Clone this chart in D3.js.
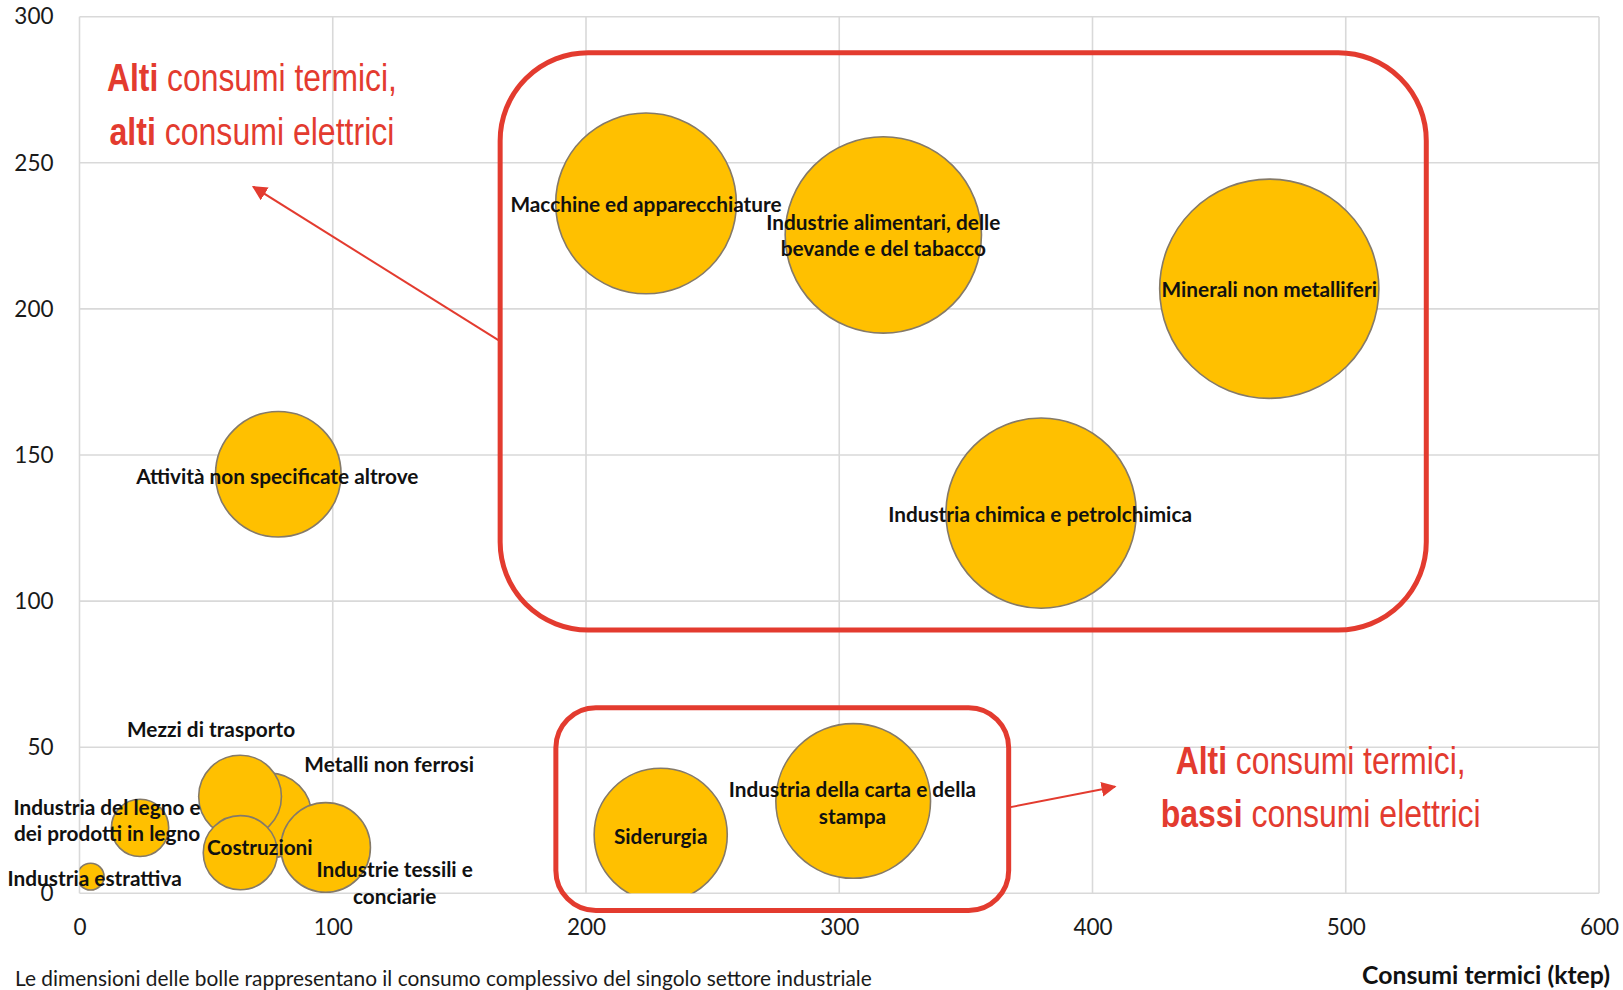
<!DOCTYPE html>
<html lang="it">
<head>
<meta charset="utf-8">
<title>Consumi termici ed elettrici per settore industriale</title>
<script src="https://cdn.jsdelivr.net/npm/d3@7"></script>
<style>
  html, body { margin: 0; padding: 0; background: #ffffff; }
  svg { display: block; }
  .tick text { font-family: Lato, "Open Sans", sans-serif; font-size: 22.5px; fill: #1a1a1a; }
  .bubble-label { font-family: Lato, "Open Sans", sans-serif; font-weight: 700; font-size: 20.8px; fill: #111; }
  .note { font-family: Lato, "Open Sans", sans-serif; font-size: 20.9px; fill: #1a1a1a; }
  .axis-title { font-family: Lato, "Open Sans", sans-serif; font-weight: 700; font-size: 24.8px; fill: #111; }
  .callout { font-family: "Liberation Sans Narrow", "Arial Narrow", "Liberation Sans", Arial, sans-serif; font-size: 38px; fill: #E33B2F; }
</style>
</head>
<body>
<svg id="chart" width="1623" height="990"></svg>
<script>
// Settori industriali (ordine di disegno delle bolle)
const sectors = [
  "Industria estrattiva",
  "Industria del legno e dei prodotti in legno",
  "Metalli non ferrosi",
  "Mezzi di trasporto",
  "Costruzioni",
  "Industrie tessili e conciarie",
  "Attività non specificate altrove",
  "Macchine ed apparecchiature",
  "Industrie alimentari, delle bevande e del tabacco",
  "Minerali non metalliferi",
  "Industria chimica e petrolchimica",
  "Siderurgia",
  "Industria della carta e della stampa"
];
// Consumi termici (ktep) – asse x
const thermal  = [4.4, 23.9, 74.9, 63.4, 63.5, 97.2, 78.5, 223.7, 317.4, 469.8, 379.7, 229.5, 305.5];
// Consumi elettrici (ktep) – asse y
const electric = [5.7, 22.4, 26.6, 33.1, 13.9, 15.7, 143.4, 236.1, 225.3, 206.9, 130.1, 20.0, 31.6];
// Consumo complessivo (ktep) – dimensione delle bolle
const totals   = [10.1, 46.3, 101.5, 96.5, 77.4, 112.9, 221.9, 459.8, 542.7, 676.7, 509.8, 249.5, 337.1];

// Etichette su più righe
const labelLines = [
  ["Industria estrattiva"],
  ["Industria del legno e", "dei prodotti in legno"],
  ["Metalli non ferrosi"],
  ["Mezzi di trasporto"],
  ["Costruzioni"],
  ["Industrie tessili e", "conciarie"],
  ["Attività non specificate altrove"],
  ["Macchine ed apparecchiature"],
  ["Industrie alimentari, delle", "bevande e del tabacco"],
  ["Minerali non metalliferi"],
  ["Industria chimica e petrolchimica"],
  ["Siderurgia"],
  ["Industria della carta e della", "stampa"]
];

const xTicks = [0, 100, 200, 300, 400, 500, 600];
const yTicks = [0, 50, 100, 150, 200, 250, 300];

// Spostamento delle etichette rispetto al centro della bolla (px)
const labelOffset = [
  [4, 2], [-33, -20], [120, -51], [-29, -67], [19.5, -4.5], [69, 23],
  [-1, 3], [0, 1.6], [0, -12.3], [0, 1], [-1, 1.7], [0, 2], [-0.7, -10.6]
];

const W = 1623, H = 990;
const plot = { left: 79.5, right: 1599, top: 16.7, bottom: 893.3 };

const x = d3.scaleLinear().domain([0, 600]).range([plot.left, plot.right]);
const y = d3.scaleLinear().domain([0, 300]).range([plot.bottom, plot.top]);
const r = d3.scaleSqrt().domain([0, d3.max(totals)]).range([0, 109.6]);

const svg = d3.select("#chart");
svg.append("rect").attr("width", W).attr("height", H).attr("fill", "#fff");

// Griglia
const grid = svg.append("g").attr("stroke", "#d9d9d9").attr("stroke-width", 1.6);
grid.selectAll("line.h").data(yTicks).join("line")
  .attr("x1", plot.left).attr("x2", plot.right)
  .attr("y1", d => y(d)).attr("y2", d => y(d));
grid.selectAll("line.v").data(xTicks).join("line")
  .attr("y1", plot.top).attr("y2", plot.bottom)
  .attr("x1", d => x(d)).attr("x2", d => x(d));

// Assi
const yAxis = svg.append("g")
  .attr("transform", `translate(${plot.left},0)`)
  .call(d3.axisLeft(y).tickValues(yTicks).tickSize(0).tickPadding(26));
yAxis.select(".domain").remove();

const xAxis = svg.append("g")
  .attr("transform", `translate(0,${plot.bottom})`)
  .call(d3.axisBottom(x).tickValues(xTicks).tickSize(0).tickPadding(26));
xAxis.select(".domain").remove();

// Bolle (ritagliate all'area del grafico)
svg.append("clipPath").attr("id", "plot-clip")
  .append("rect")
  .attr("x", plot.left).attr("y", plot.top)
  .attr("width", plot.right - plot.left).attr("height", plot.bottom - plot.top);

const data = sectors.map((s, i) => ({
  name: s, tx: thermal[i], el: electric[i], tot: totals[i],
  lines: labelLines[i], off: labelOffset[i]
}));

svg.append("g").attr("clip-path", "url(#plot-clip)")
  .selectAll("circle").data(data).join("circle")
  .attr("cx", d => x(d.tx))
  .attr("cy", d => y(d.el))
  .attr("r", d => r(d.tot))
  .attr("fill", "#FFC000")
  .attr("stroke", "#857a68")
  .attr("stroke-width", 1.6);

// Etichette dei dati
const lineH = 26.4;
const labels = svg.append("g").selectAll("text").data(data).join("text")
  .attr("class", "bubble-label")
  .attr("text-anchor", "middle");
labels.each(function (d) {
  const t = d3.select(this);
  const cx = x(d.tx) + d.off[0];
  const cy = y(d.el) + d.off[1];
  d.lines.forEach((ln, k) => {
    t.append("tspan")
      .attr("x", cx)
      .attr("y", cy + k * lineH)
      .attr("dy", "0.34em")
      .text(ln);
  });
});

// Riquadri e frecce di evidenza
const red = "#E33B2F";
const boxes = [
  { x0: 166.1, x1: 531.8, y0: 287.7, y1: 90.1, rx: 88 },
  { x0: 188.1, x1: 366.9, y0: 63.5, y1: -5.9, rx: 40 }
];
svg.append("g").selectAll("rect").data(boxes).join("rect")
  .attr("x", d => x(d.x0)).attr("y", d => y(d.y0))
  .attr("width", d => x(d.x1) - x(d.x0))
  .attr("height", d => y(d.y1) - y(d.y0))
  .attr("rx", d => d.rx).attr("ry", d => d.rx)
  .attr("fill", "none").attr("stroke", red).attr("stroke-width", 5);

svg.append("defs").append("marker")
  .attr("id", "arrowhead")
  .attr("viewBox", "0 0 10 10")
  .attr("refX", 9).attr("refY", 5)
  .attr("markerWidth", 7.5).attr("markerHeight", 7.5)
  .attr("markerUnits", "strokeWidth")
  .attr("orient", "auto")
  .append("path").attr("d", "M0,0 L10,5 L0,10 z").attr("fill", red);

const arrows = [
  { from: [165.4, 189.3], to: [68.6, 241.8] },
  { from: [367.1, 29.4], to: [408.9, 36.5] }
];
svg.append("g").selectAll("line").data(arrows).join("line")
  .attr("x1", d => x(d.from[0])).attr("y1", d => y(d.from[1]))
  .attr("x2", d => x(d.to[0])).attr("y2", d => y(d.to[1]))
  .attr("stroke", red).attr("stroke-width", 2)
  .attr("marker-end", "url(#arrowhead)");

// Testi di commento (carattere condensato: larghezza di riga fissata)
const callouts = [
  { cx: 68.1, base: 274.7, bold: "Alti", rest: " consumi termici,", width: 290 },
  { cx: 68.1, base: 256.1, bold: "alti", rest: " consumi elettrici", width: 285 },
  { cx: 490.1, base: 40.9, bold: "Alti", rest: " consumi termici,", width: 290 },
  { cx: 490.1, base: 22.6, bold: "bassi", rest: " consumi elettrici", width: 320 }
];
const ct = svg.append("g").selectAll("text").data(callouts).join("text")
  .attr("class", "callout")
  .attr("text-anchor", "middle")
  .attr("x", 0).attr("y", 0);
ct.append("tspan").attr("font-weight", 700).text(d => d.bold);
ct.append("tspan").text(d => d.rest);
ct.each(function (d) {
  const natural = this.getComputedTextLength();
  const sx = d.width / natural;
  d3.select(this).attr("transform",
    `translate(${x(d.cx)},${y(d.base)}) scale(${sx},1)`);
});

// Nota e titolo dell'asse
svg.append("text").attr("class", "note")
  .attr("x", 15).attr("y", 986)
  .text("Le dimensioni delle bolle rappresentano il consumo complessivo del singolo settore industriale");
svg.append("text").attr("class", "axis-title")
  .attr("x", 1610).attr("y", 984).attr("text-anchor", "end")
  .text("Consumi termici (ktep)");
</script>
</body>
</html>
